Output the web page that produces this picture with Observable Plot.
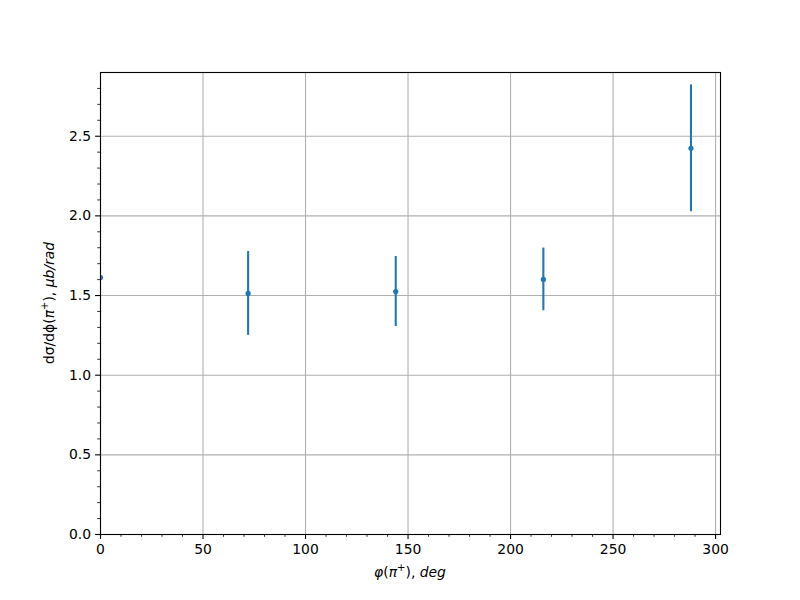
<!DOCTYPE html>
<html>
<head>
<meta charset="utf-8">
<script src="https://cdn.jsdelivr.net/npm/d3@7"></script>
<script src="https://cdn.jsdelivr.net/npm/@observablehq/plot@0.6"></script>
<style>
  html, body { margin: 0; padding: 0; background: #fff; }
</style>
</head>
<body>
<div id="chart"></div>
<script>
const phi = [0, 72, 144, 216, 288];
const sigma = [1.613, 1.513, 1.525, 1.601, 2.424];
const err = [0, 0.263, 0.22, 0.197, 0.398];
const xTicks = [0, 50, 100, 150, 200, 250, 300];
const yTicks = [0, 0.5, 1.0, 1.5, 2.0, 2.5];

const data = phi.map((p, i) => ({phi: p, s: sigma[i], lo: sigma[i] - err[i], hi: sigma[i] + err[i], e: err[i]}));
const xMinor = d3.range(0, 301, 10).filter(v => v % 50 !== 0);
const yMinor = d3.range(0, 29).map(v => v / 10).filter(v => Math.abs(v * 2 - Math.round(v * 2)) > 1e-9);

const blue = "#1f77b4";
const plot = Plot.plot({
  width: 800,
  height: 600,
  marginLeft: 100,
  marginRight: 80,
  marginTop: 72,
  marginBottom: 66,
  style: {fontFamily: "DejaVu Sans", fontSize: "13.9px", color: "#000", background: "#fff"},
  x: {domain: [0, 302.4]},
  y: {domain: [0, 2.9]},
  marks: [
    Plot.gridX(xTicks, {stroke: "#b0b0b0", strokeOpacity: 1, strokeWidth: 1.1}),
    Plot.gridY(yTicks, {stroke: "#b0b0b0", strokeOpacity: 1, strokeWidth: 1.1}),
    Plot.ruleX(data.filter(d => d.e > 0), {x: "phi", y1: "lo", y2: "hi", stroke: blue, strokeWidth: 2.1, clip: true}),
    Plot.dot(data, {x: "phi", y: "s", r: 2.6, fill: blue, stroke: "none", clip: true}),
    Plot.frame({stroke: "#000", strokeWidth: 1.1}),
    Plot.axisX(xTicks, {tickSize: 4.9, tickPadding: 4.5, tickFormat: d => String(d), label: null, strokeWidth: 1.1, fontSize: 13.9}),
    Plot.axisX(xMinor, {tickSize: 2.8, text: null, label: null, strokeWidth: 0.8}),
    Plot.axisY(yTicks, {tickSize: 4.9, tickPadding: 4.5, tickFormat: d3.format(".1f"), label: null, strokeWidth: 1.1, fontSize: 13.9}),
    Plot.axisY(yMinor, {tickSize: 2.8, text: null, label: null, strokeWidth: 0.8})
  ]
});

const svg = d3.select(plot);
const xl = svg.append("text")
  .attr("x", 410).attr("y", 577)
  .attr("text-anchor", "middle")
  .attr("font-family", "DejaVu Sans").attr("font-size", 13.9).attr("fill", "#000");
xl.append("tspan").attr("font-style", "italic").text("φ");
xl.append("tspan").text("(");
xl.append("tspan").attr("font-style", "italic").text("π");
xl.append("tspan").attr("font-size", 10).attr("dy", -6).text("+");
xl.append("tspan").attr("dy", 6).text(")");
xl.append("tspan").text(", ");
xl.append("tspan").attr("font-style", "italic").text("deg");

const yl = svg.append("text")
  .attr("transform", "translate(54,303) rotate(-90)")
  .attr("text-anchor", "middle")
  .attr("font-family", "DejaVu Sans").attr("font-size", 13.9).attr("fill", "#000");
yl.append("tspan").text("dσ/dϕ(");
yl.append("tspan").attr("font-style", "italic").text("π");
yl.append("tspan").attr("font-size", 10).attr("dy", -6).text("+");
yl.append("tspan").attr("dy", 6).text(")");
yl.append("tspan").text(", ");
yl.append("tspan").attr("font-style", "italic").text("μb/rad");

document.getElementById("chart").appendChild(plot);
</script>
</body>
</html>
